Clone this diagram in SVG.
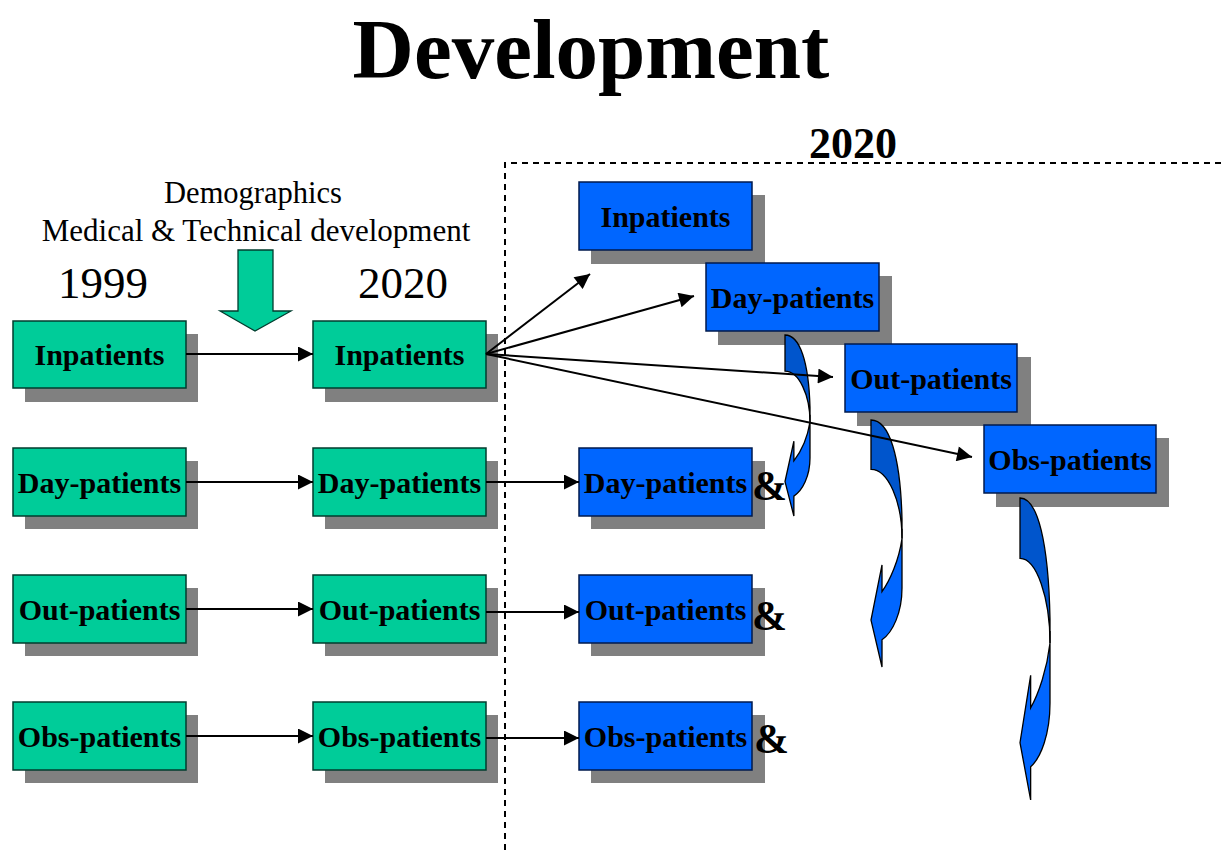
<svg xmlns="http://www.w3.org/2000/svg" width="1222" height="850" viewBox="0 0 1222 850">
<defs>
<style>
.sh{fill:#808080}
.g{fill:#00CC99;stroke:#003d2e;stroke-width:1.5}
.b{fill:#0066FF;stroke:#001a4d;stroke-width:1.5}
.lbl{font-family:"Liberation Serif","Times New Roman",serif;font-weight:bold;font-size:30px;fill:#000;text-anchor:middle}
.amp{font-family:"Liberation Serif","Times New Roman",serif;font-weight:bold;font-size:42px;fill:#000}
.plain{font-family:"Liberation Serif","Times New Roman",serif;fill:#000;text-anchor:middle}
.con{stroke:#000;stroke-width:2;fill:none;marker-end:url(#ah)}
.dash{stroke:#000;stroke-width:2;fill:none;stroke-dasharray:6,5}
.back{fill:#0055CC;stroke:#000;stroke-width:1.3;vector-effect:non-scaling-stroke}
.front{fill:#0066FF;stroke:#000;stroke-width:1.3;vector-effect:non-scaling-stroke}
</style>
<marker id="ah" viewBox="0 0 10 10" refX="10" refY="5" markerWidth="17" markerHeight="15" markerUnits="userSpaceOnUse" orient="auto">
<path d="M0,0 L10,5 L0,10 Z" fill="#000"/>
</marker>
<g id="curveShape">
<path class="back" d="M0,0 C0.6,0 0.95,0.15 1,0.40 L1,0.48 C1,0.33 0.55,0.20 0,0.20 Z"/>
<path class="front" d="M1,0.44 L1,0.68 C1,0.78 0.7,0.86 0.355,0.89 L0.355,1 L0,0.81 L0.355,0.587 L0.355,0.695 C0.62,0.648 0.9,0.567 1,0.48 Z"/>
</g>
</defs>

<text class="plain" x="591" y="78" font-size="85" font-weight="bold">Development</text>
<text class="plain" x="853" y="158" font-size="44" font-weight="bold">2020</text>
<text class="plain" x="253" y="203" font-size="30.5">Demographics</text>
<text class="plain" x="256" y="241" font-size="31">Medical &amp; Technical development</text>
<text class="plain" x="103" y="298" font-size="45">1999</text>
<text class="plain" x="403" y="298" font-size="45">2020</text>

<path class="dash" d="M505,850 L505,163 L1222,163"/>

<polygon id="trendArrow" points="238,250 273,250 273,311 291,311 255,331 220,311 238,311" fill="#00CC99" stroke="#003d2e" stroke-width="1.3"/>

<g id="g1-in"><rect class="sh" x="25" y="334" width="173" height="68"/><rect class="g" x="13" y="321" width="173" height="67"/><text class="lbl" x="99.5" y="365">Inpatients</text></g>
<g id="g1-day"><rect class="sh" x="25" y="461" width="173" height="68"/><rect class="g" x="13" y="448" width="173" height="68"/><text class="lbl" x="99.5" y="493">Day-patients</text></g>
<g id="g1-out"><rect class="sh" x="25" y="588" width="173" height="68"/><rect class="g" x="13" y="575" width="173" height="68"/><text class="lbl" x="99.5" y="620">Out-patients</text></g>
<g id="g1-obs"><rect class="sh" x="25" y="715" width="173" height="68"/><rect class="g" x="13" y="702" width="173" height="68"/><text class="lbl" x="99.5" y="747">Obs-patients</text></g>

<g id="g2-in"><rect class="sh" x="325" y="334" width="173" height="68"/><rect class="g" x="313" y="321" width="173" height="67"/><text class="lbl" x="399.5" y="365">Inpatients</text></g>
<g id="g2-day"><rect class="sh" x="325" y="461" width="173" height="68"/><rect class="g" x="313" y="448" width="173" height="68"/><text class="lbl" x="399.5" y="493">Day-patients</text></g>
<g id="g2-out"><rect class="sh" x="325" y="588" width="173" height="68"/><rect class="g" x="313" y="575" width="173" height="68"/><text class="lbl" x="399.5" y="620">Out-patients</text></g>
<g id="g2-obs"><rect class="sh" x="325" y="715" width="173" height="68"/><rect class="g" x="313" y="702" width="173" height="68"/><text class="lbl" x="399.5" y="747">Obs-patients</text></g>

<g id="b-in"><rect class="sh" x="591" y="195" width="174" height="69"/><rect class="b" x="579" y="182" width="173" height="68"/><text class="lbl" x="665.5" y="227">Inpatients</text></g>
<g id="b-day2"><rect class="sh" x="718" y="276" width="174" height="69"/><rect class="b" x="706" y="263" width="173" height="68"/><text class="lbl" x="792.5" y="308">Day-patients</text></g>
<g id="b-out2"><rect class="sh" x="857" y="357" width="174" height="69"/><rect class="b" x="845" y="344" width="172" height="68"/><text class="lbl" x="931" y="389">Out-patients</text></g>
<g id="b-obs2"><rect class="sh" x="996" y="438" width="173" height="69"/><rect class="b" x="984" y="425" width="172" height="68"/><text class="lbl" x="1070" y="470">Obs-patients</text></g>

<g id="b-day"><rect class="sh" x="591" y="461" width="174" height="68"/><rect class="b" x="579" y="448" width="173" height="68"/><text class="lbl" x="665.5" y="493">Day-patients</text><text class="amp" x="752" y="500">&amp;</text></g>
<g id="b-out"><rect class="sh" x="591" y="588" width="174" height="68"/><rect class="b" x="579" y="575" width="173" height="68"/><text class="lbl" x="665.5" y="620">Out-patients</text><text class="amp" x="752" y="630">&amp;</text></g>
<g id="b-obs"><rect class="sh" x="591" y="715" width="174" height="68"/><rect class="b" x="579" y="702" width="173" height="68"/><text class="lbl" x="665.5" y="747">Obs-patients</text><text class="amp" x="754" y="753">&amp;</text></g>

<g id="curve-day"><use href="#curveShape" transform="translate(785,335) scale(25,181)"/></g>
<g id="curve-out"><use href="#curveShape" transform="translate(871,420) scale(31,247)"/></g>
<g id="curve-obs"><use href="#curveShape" transform="translate(1020,498) scale(30,302)"/></g>

<g id="connectors">
<line class="con" x1="186" y1="354" x2="313" y2="354"/>
<line class="con" x1="186" y1="482" x2="313" y2="482"/>
<line class="con" x1="186" y1="609" x2="313" y2="609"/>
<line class="con" x1="186" y1="736" x2="313" y2="736"/>
<line class="con" x1="486" y1="482" x2="579" y2="482"/>
<line class="con" x1="486" y1="612" x2="579" y2="612"/>
<line class="con" x1="486" y1="738" x2="579" y2="738"/>
<line class="con" x1="486" y1="354" x2="590" y2="274"/>
<line class="con" x1="486" y1="354" x2="694" y2="296"/>
<line class="con" x1="486" y1="354" x2="833" y2="377"/>
<line class="con" x1="486" y1="354" x2="972" y2="457"/>
</g>
</svg>
